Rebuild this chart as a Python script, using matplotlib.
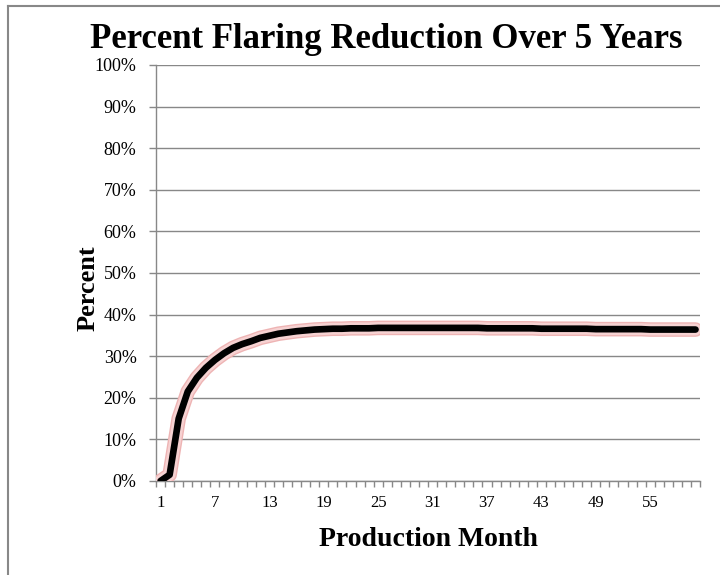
import numpy as np
import matplotlib.pyplot as plt
import matplotlib as mpl
import matplotlib.patheffects as pe
from matplotlib.lines import Line2D

# ======================
# 全局绘图风格
# ======================
mpl.rcParams["font.family"] = "Liberation Serif"
mpl.rcParams["font.size"] = 13
mpl.rcParams["axes.linewidth"] = 1.0
mpl.rcParams["figure.dpi"] = 100

# ======================
# 数据：逐月减排比例 (%)
# ======================
months = list(range(1, 61))
reduction_pct = [
    0.0, 1.5, 15.0, 21.5, 24.8, 27.2, 29.1, 30.7, 32.0, 32.9,
    33.6, 34.4, 34.9, 35.4, 35.7, 36.0, 36.2, 36.4, 36.5, 36.6,
    36.6, 36.7, 36.7, 36.7, 36.8, 36.8, 36.8, 36.8, 36.8, 36.8,
    36.8, 36.8, 36.8, 36.8, 36.8, 36.8, 36.7, 36.7, 36.7, 36.7,
    36.7, 36.7, 36.6, 36.6, 36.6, 36.6, 36.6, 36.6, 36.5, 36.5,
    36.5, 36.5, 36.5, 36.5, 36.4, 36.4, 36.4, 36.4, 36.4, 36.4,
]
x_tick_months = list(range(1, 61, 6))
y_ticks = list(range(0, 101, 10))

title = "Percent Flaring Reduction Over 5 Years"
x_label = "Production Month"
y_label = "Percent"

grid_color = "#888888"

# ======================
# 建图
# ======================
fig = plt.figure(figsize=(7.2, 5.75))
ax = fig.add_axes([0.2167, 0.1635, 0.7556, 0.7235])

# 外框（图表区边框）
fig.add_artist(Line2D([8 / 720, 8 / 720], [0, 1 - 6 / 575],
                      transform=fig.transFigure, color=grid_color, lw=1.5))
fig.add_artist(Line2D([8 / 720, 1], [1 - 6 / 575, 1 - 6 / 575],
                      transform=fig.transFigure, color=grid_color, lw=1.5))

# ======================
# 曲线：黑色粗线 + 粉色光晕
# ======================
ax.plot(
    months, reduction_pct,
    color="black", lw=4.8, solid_capstyle="round", solid_joinstyle="round",
    zorder=3,
    path_effects=[
        pe.SimpleLineShadow(offset=(0, -2), shadow_color="#b0b0b0", alpha=0.5),
        pe.Stroke(linewidth=10.5, foreground="#eeb4b4"),
        pe.Stroke(linewidth=8.5, foreground="#f6d2d2"),
        pe.Normal(),
    ],
)

# ======================
# 坐标轴
# ======================
ax.set_xlim(0.5, 60.5)
ax.set_ylim(0, 100)

ax.set_yticks(y_ticks)
ax.set_yticklabels([f"{v}%" for v in y_ticks])
ax.set_xticks(x_tick_months)
ax.set_xticklabels([str(m) for m in x_tick_months], fontsize=12)
ax.set_xticks(np.arange(0.5, 61, 1), minor=True)

ax.tick_params(axis="y", length=5, width=1, color=grid_color, pad=9, labelsize=13)
ax.tick_params(axis="x", which="major", length=0, pad=10)
ax.tick_params(axis="x", which="minor", length=4, width=1, color=grid_color)

for side in ["top", "right"]:
    ax.spines[side].set_visible(False)
for side in ["left", "bottom"]:
    ax.spines[side].set_color(grid_color)

ax.grid(axis="y", color=grid_color, lw=1.0)
ax.set_axisbelow(True)

# ======================
# 标签与标题
# ======================
fig.text(428 / 720, 1 - 540 / 575, x_label, fontsize=20, fontweight="bold",
         ha="center", va="center")
fig.text(88 / 720, 1 - 288 / 575, y_label, fontsize=19, fontweight="bold",
         rotation=90, ha="center", va="center")

fig.text(386 / 720, 1 - 39 / 575, title, fontsize=25, fontweight="bold",
         ha="center", va="center")

plt.savefig("out.png", dpi=100)
